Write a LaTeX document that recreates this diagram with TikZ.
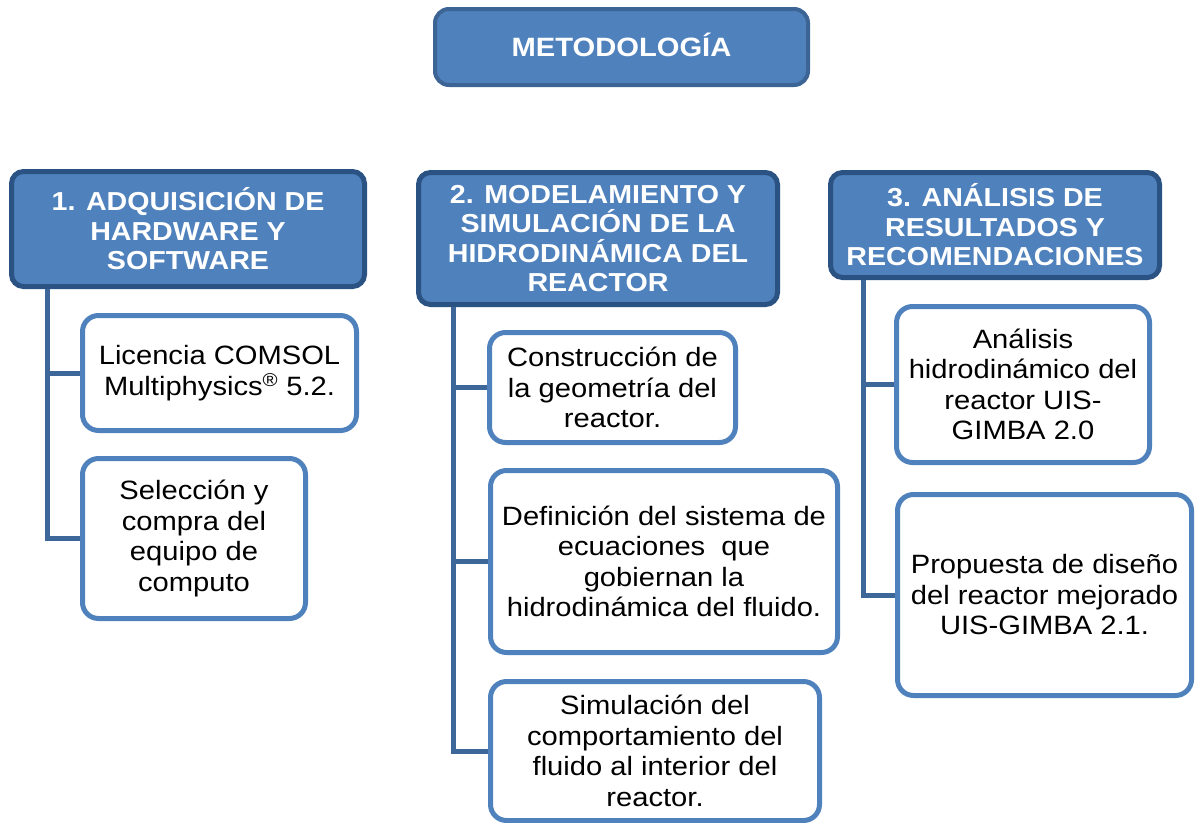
\documentclass[tikz,border=0pt]{standalone}
\usepackage{fontspec}
\setmainfont{Liberation Sans}[FakeStretch=1.1]
\definecolor{hdr}{HTML}{4F81BD}
\definecolor{hdrborder}{HTML}{2A5384}
\definecolor{metborder}{HTML}{3C6494}
\definecolor{childborder}{HTML}{4F81BD}
\definecolor{connc}{HTML}{3D6699}
\begin{document}
\begin{tikzpicture}[x=1pt,y=-1pt,
  topbox/.style={fill=hdr,draw=metborder,line width=4pt,rounded corners=14pt,
    text=white,font=\bfseries\fontsize{26.5}{30}\selectfont,inner sep=0pt,align=center},
  hdrbox/.style={fill=hdr,draw=hdrborder,line width=5pt,rounded corners=12pt,
    text=white,font=\bfseries\fontsize{26}{29.5}\selectfont,inner sep=0pt,align=center},
  childbox/.style={fill=white,draw=childborder,line width=5pt,rounded corners=16pt,
    text=black,font=\fontsize{26.5}{30.5}\selectfont,inner sep=0pt,align=center},
  conn/.style={draw=connc,line width=5pt,line join=miter}]
\useasboundingbox (0,0) rectangle (1199,822);

\node[topbox,minimum width=373pt,minimum height=76pt] (met) at (621.5,47) {\raisebox{4pt}{METODOLOGÍA}};

\node[hdrbox,minimum width=353pt,minimum height=115pt] (h1) at (188,229)
  {1. ADQUISICIÓN DE\\HARDWARE Y\\SOFTWARE};
\node[hdrbox,minimum width=359pt,minimum height=132pt] (h2) at (598,238.5)
  {2. MODELAMIENTO Y\\SIMULACIÓN DE LA\\HIDRODINÁMICA DEL\\REACTOR};
\node[hdrbox,minimum width=329pt,minimum height=105pt] (h3) at (995,225)
  {3. ANÁLISIS DE\\RESULTADOS Y\\RECOMENDACIONES};

\node[childbox,minimum width=274pt,minimum height=115pt] (c1a) at (219.5,373)
  {Licencia COMSOL\\Multiphysics\textsuperscript{®} 5.2.};
\node[childbox,minimum width=223pt,minimum height=160pt] (c1b) at (194,538.5)
  {Selección y\\compra del\\equipo de\\computo};

\node[childbox,minimum width=246pt,minimum height=110pt] (c2a) at (612.5,387.5)
  {Construcción de\\la geometría del\\reactor.};
\node[childbox,minimum width=347pt,minimum height=182pt] (c2b) at (664,561.5)
  {Definición del sistema de\\ecuaciones\ \ que\\gobiernan la\\hidrodinámica del fluido.};
\node[childbox,minimum width=329pt,minimum height=139pt] (c2c) at (655,751)
  {Simulación del\\comportamiento del\\fluido al interior del\\reactor.};

\node[childbox,minimum width=253pt,minimum height=156pt] (c3a) at (1023,384.5)
  {Análisis\\hidrodinámico del\\reactor UIS-\\GIMBA 2.0};
\node[childbox,minimum width=294pt,minimum height=201pt] (c3b) at (1044.5,595)
  {Propuesta de diseño\\del reactor mejorado\\UIS-GIMBA 2.1.};

\coordinate (t1) at ([xshift=-141pt]h1.south);
\coordinate (t2) at ([xshift=-145pt]h2.south);
\coordinate (t3) at ([xshift=-132pt]h3.south);

\draw[conn] (t1) |- (c1b.west);
\draw[conn] (t1) |- (c1a.west);
\draw[conn] (t2) |- (c2c.west);
\draw[conn] (t2) |- (c2b.west);
\draw[conn] (t2) |- (c2a.west);
\draw[conn] (t3) |- (c3b.west);
\draw[conn] (t3) |- (c3a.west);
\end{tikzpicture}
\end{document}
